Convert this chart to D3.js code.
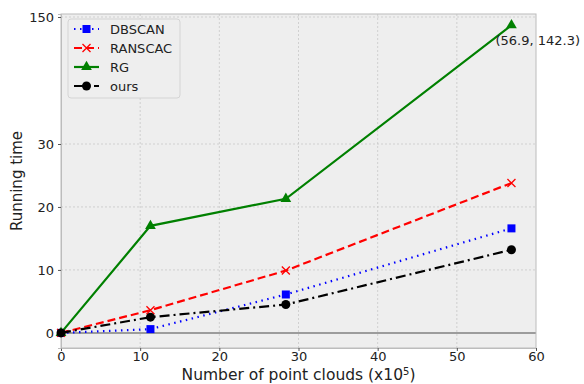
<!DOCTYPE html>
<html lang="en">
<head>
<meta charset="UTF-8">
<title>Running time vs point clouds</title>
<script src="https://cdn.jsdelivr.net/npm/d3@7"></script>
<style>
  html, body { margin: 0; padding: 0; background: #fff; }
  svg { display: block; font-family: "DejaVu Sans", sans-serif; }
</style>
</head>
<body>
<script>
// ---- data ----
const xValues = [0, 11.3, 28.4, 56.9];
const dbscan  = [0, 0.6, 6.1, 16.6];
const ranscac = [0, 3.6, 9.9, 23.8];
const rg      = [0, 17.0, 21.3, 142.3];
const ours    = [0, 2.5, 4.5, 13.2];
const seriesNames = ["DBSCAN", "RANSCAC", "RG", "ours"];
const xTicks = [0, 10, 20, 30, 40, 50, 60];
const yTicks = [0, 10, 20, 30, 150];
const annotation = "(56.9, 142.3)";

const width = 584, height = 384;
const plotL = 61, plotR = 536, plotT = 14, plotB = 348;

const svg = d3.select("body").append("svg")
  .attr("width", width).attr("height", height);

// x: linear, y: broken axis (0-30 stretched, 30-150 squeezed)
const x = d3.scaleLinear().domain([0, 60]).range([plotL, plotR]);
const y = d3.scaleLinear()
  .domain([-2.4, 30, 150, 152.6])
  .range([plotB, 144, 17, plotT]);

// plot background
svg.append("rect")
  .attr("x", plotL).attr("y", plotT)
  .attr("width", plotR - plotL).attr("height", plotB - plotT)
  .attr("fill", "#eeeeee");

// grid
const grid = svg.append("g")
  .attr("stroke", "#c8c8c8").attr("stroke-width", 0.8)
  .attr("stroke-dasharray", "2,2");
grid.selectAll("line.gx").data(xTicks.filter(d => d > 0 && d < 60)).join("line")
  .attr("x1", d => x(d)).attr("x2", d => x(d))
  .attr("y1", plotT).attr("y2", plotB);
grid.selectAll("line.gy").data(yTicks.filter(d => d > 0)).join("line")
  .attr("x1", plotL).attr("x2", plotR)
  .attr("y1", d => y(d)).attr("y2", d => y(d));

// zero line
svg.append("line")
  .attr("x1", plotL).attr("x2", plotR)
  .attr("y1", y(0)).attr("y2", y(0))
  .attr("stroke", "#808080").attr("stroke-width", 1.5);

// frame
svg.append("rect")
  .attr("x", plotL).attr("y", plotT)
  .attr("width", plotR - plotL).attr("height", plotB - plotT)
  .attr("fill", "none").attr("stroke", "#bcbcbc").attr("stroke-width", 1);

// axes
const xAxis = svg.append("g")
  .attr("transform", `translate(0,${plotB})`)
  .call(d3.axisBottom(x).tickValues(xTicks).tickSize(3).tickPadding(1));
const yAxis = svg.append("g")
  .attr("transform", `translate(${plotL},0)`)
  .call(d3.axisLeft(y).tickValues(yTicks).tickSize(3).tickPadding(4));
[xAxis, yAxis].forEach(a => {
  a.select(".domain").attr("stroke", "#bcbcbc");
  a.selectAll(".tick line").attr("stroke", "#555");
  a.selectAll("text").attr("font-size", 13).attr("fill", "#222")
    .attr("font-family", "DejaVu Sans, sans-serif");
});

// axis labels
const xl = svg.append("text")
  .attr("x", (plotL + plotR) / 2).attr("y", 380)
  .attr("text-anchor", "middle").attr("font-size", 15.5).attr("fill", "#222")
  .text("Number of point clouds (x10");
xl.append("tspan").attr("baseline-shift", "super").attr("font-size", 10).text("5");
xl.append("tspan").text(")");

svg.append("text")
  .attr("transform", `translate(22,${(plotT + plotB) / 2}) rotate(-90)`)
  .attr("text-anchor", "middle").attr("font-size", 15).attr("fill", "#222")
  .text("Running time");

// series
const styles = [
  { values: dbscan,  color: "#0000ff", dash: "1.5,4.5", marker: "square" },
  { values: ranscac, color: "#ff0000", dash: "8,4",   marker: "x" },
  { values: rg,      color: "#008000", dash: null,    marker: "triangle" },
  { values: ours,    color: "#000000", dash: "10,4,2,4", marker: "circle" }
];

const line = d3.line().x(d => x(d[0])).y(d => y(d[1]));

function drawMarker(g, kind, color, cx, cy) {
  if (kind === "square") {
    g.append("rect").attr("x", cx - 4).attr("y", cy - 4)
      .attr("width", 8).attr("height", 8).attr("fill", color);
  } else if (kind === "x") {
    g.append("path")
      .attr("d", `M${cx - 4},${cy - 4}L${cx + 4},${cy + 4}M${cx - 4},${cy + 4}L${cx + 4},${cy - 4}`)
      .attr("stroke", color).attr("stroke-width", 1.3).attr("fill", "none");
  } else if (kind === "triangle") {
    g.append("path")
      .attr("d", d3.symbol(d3.symbolTriangle, 50)())
      .attr("transform", `translate(${cx},${cy})`)
      .attr("fill", color);
  } else {
    g.append("circle").attr("cx", cx).attr("cy", cy).attr("r", 4.5).attr("fill", color);
  }
}

styles.forEach(s => {
  const pts = xValues.map((v, i) => [v, s.values[i]]);
  const g = svg.append("g");
  g.append("path")
    .attr("d", line(pts))
    .attr("fill", "none")
    .attr("stroke", s.color).attr("stroke-width", 2.2)
    .attr("stroke-dasharray", s.dash);
  pts.forEach(p => drawMarker(g, s.marker, s.color, x(p[0]), y(p[1])));
});

// annotation
svg.append("text")
  .attr("x", x(xValues[3]) - 16).attr("y", y(rg[3]) + 20)
  .attr("font-size", 13).attr("fill", "#222")
  .text(annotation);

// legend
const lg = svg.append("g");
lg.append("rect")
  .attr("x", 68).attr("y", 19).attr("width", 112).attr("height", 79)
  .attr("rx", 3)
  .attr("fill", "#eeeeee").attr("stroke", "#d4d4d4").attr("stroke-width", 1);
seriesNames.forEach((name, i) => {
  const s = styles[i];
  const ly = 29 + i * 19;
  lg.append("line")
    .attr("x1", 74).attr("x2", 99).attr("y1", ly).attr("y2", ly)
    .attr("stroke", s.color).attr("stroke-width", 2.2)
    .attr("stroke-dasharray", s.dash);
  drawMarker(lg, s.marker, s.color, 86.5, ly);
  lg.append("text")
    .attr("x", 110).attr("y", ly + 5)
    .attr("font-size", 13).attr("fill", "#222")
    .text(name);
});
</script>
</body>
</html>
